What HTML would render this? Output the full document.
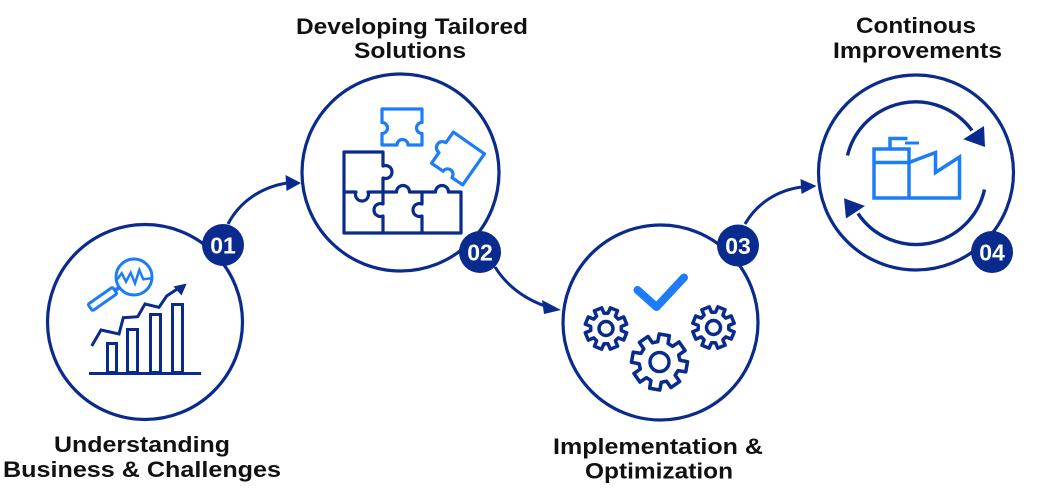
<!DOCTYPE html>
<html>
<head>
<meta charset="utf-8">
<style>
  html,body{margin:0;padding:0;background:#fff;}
  body{width:1056px;height:503px;overflow:hidden;}
  svg{display:block;}
  .lbl{font-family:"Liberation Sans",Arial,sans-serif;font-weight:bold;font-size:22px;fill:#111;}
  .num{font-family:"Liberation Sans",Arial,sans-serif;font-weight:bold;font-size:23px;fill:#fff;}
</style>
</head>
<body>
<svg width="1056" height="503" viewBox="0 0 1056 503" xmlns="http://www.w3.org/2000/svg">
  <defs>
    <path id="gear" d="M16.2,-4.3 L22.6,-4.2 L22.6,4.2 L16.2,4.3 L14.5,8.4 L19,12.9 L12.9,19 L8.4,14.5 L4.3,16.2 L4.2,22.6 L-4.2,22.6 L-4.3,16.2 L-8.4,14.5 L-12.9,19 L-19,12.9 L-14.5,8.4 L-16.2,4.3 L-22.6,4.2 L-22.6,-4.2 L-16.2,-4.3 L-14.5,-8.4 L-19,-12.9 L-12.9,-19 L-8.4,-14.5 L-4.3,-16.2 L-4.2,-22.6 L4.2,-22.6 L4.3,-16.2 L8.4,-14.5 L12.9,-19 L19,-12.9 L14.5,-8.4 Z"/>
  </defs>

  <!-- Main circles -->
  <g fill="none" stroke="#0a2b8e" stroke-width="3.2">
    <circle cx="145" cy="322" r="97.5"/>
    <circle cx="400.5" cy="172.5" r="98.5"/>
    <circle cx="660.5" cy="322.5" r="97.5"/>
    <circle cx="916" cy="172.5" r="97.5"/>
  </g>

  <!-- Connectors -->
  <g fill="none" stroke="#0a2b8e" stroke-width="3">
    <path d="M228,224 C240,201 262,187 287,183"/>
    <path d="M495,267 Q512,294 545,306"/>
    <path d="M745,224 C757,203 778,190 802,187"/>
  </g>
  <g fill="#0a2b8e">
    <polygon points="285.5,175 301,183 286.5,191"/>
    <polygon points="542,300 561,310 544,314"/>
    <polygon points="800.5,179 816.5,186 801.5,194"/>
  </g>

  <!-- Icon 1: chart + magnifier -->
  <g fill="none" stroke="#1d7df8" stroke-width="3">
    <circle cx="134" cy="277" r="18"/>
    <polyline stroke-width="2.5" stroke-linejoin="miter" points="117.3,279.3 121.7,273.3 126,281.7 130.7,272.7 135,283.3 139.3,270 143.3,279.3 151.7,278.3"/>
    <rect x="-15" y="-4" width="30" height="8" rx="1.5" transform="translate(102.5,299) rotate(-35)"/>
    <line x1="118.5" y1="288" x2="114" y2="291" stroke-width="4"/>
  </g>
  <g fill="none" stroke="#0a2b8e" stroke-width="3">
    <rect x="107.5" y="343.5" width="9" height="29"/>
    <rect x="127.5" y="329.5" width="10" height="43"/>
    <rect x="150.5" y="314.5" width="10" height="58"/>
    <rect x="172.5" y="304.5" width="10" height="68"/>
    <line x1="89" y1="373.5" x2="201" y2="373.5"/>
    <polyline stroke-linejoin="miter" points="91.7,346 101,330 119,334 123.3,317.7 137.7,316.7 145,304 159,307.3 166.7,296 178,288.5"/>
  </g>
  <polygon fill="#0a2b8e" points="186.7,283.5 173.5,286.5 181.5,295.5"/>

  <!-- Icon 2: puzzle -->
  <g fill="none" stroke="#0a2b8e" stroke-width="3.2" stroke-linejoin="round">
    <path d="M344,192 V152 H383 V166 A6.5,6.5 0 1 1 383,178 V192"/>
    <path d="M344,192 H356 A6.5,6.5 0 1 0 368,192 H383 V204 A6.5,6.5 0 1 0 383,216 V233 H344 Z"/>
    <path d="M383,192 H396.5 A6.5,6.5 0 1 1 409.5,192 H422 V204 A6.5,6.5 0 1 0 422,216 V233 H383"/>
    <path d="M422,192 H435.5 A6.5,6.5 0 1 1 448.5,192 H461 V233 H422"/>
  </g>
  <g fill="none" stroke="#1d7df8" stroke-width="3.2" stroke-linejoin="round">
    <path d="M382,109 H422 V122.5 A5.5,5.5 0 1 0 422,133.5 V145 H408 A5.5,5.5 0 1 0 397,145 H382 V133.5 A5.5,5.5 0 1 0 382,122.5 Z"/>
    <path transform="translate(458,158.5) rotate(35)" d="M-19,-19 H19 V19 H6 A5.5,5.5 0 1 0 -5,19 H-19 V6 A5.5,5.5 0 1 1 -19,-6 Z"/>
  </g>

  <!-- Icon 3: gears + check -->
  <polyline points="637.5,290 656.5,307 684,277.5" fill="none" stroke="#1d7df8" stroke-width="8" stroke-linecap="round" stroke-linejoin="round"/>
  <g fill="none" stroke="#0a2b8e" stroke-linejoin="round">
    <use href="#gear" transform="translate(606,328.5) rotate(22.5) scale(0.92)" stroke-width="3.8"/>
    <circle cx="606" cy="328.5" r="7" stroke-width="3.5"/>
    <use href="#gear" transform="translate(713.5,327.5) rotate(22.5) scale(0.92)" stroke-width="3.8"/>
    <circle cx="713.5" cy="327.5" r="7" stroke-width="3.5"/>
    <use href="#gear" transform="translate(659.5,362) rotate(10) scale(1.22)" stroke-width="2.9"/>
    <circle cx="659.5" cy="362" r="9.5" stroke-width="3.5"/>
  </g>

  <!-- Icon 4: cycle + factory -->
  <g fill="none" stroke="#0a2b8e" stroke-width="3.4">
    <path d="M847.5,155.5 A70,70 0 0 1 972,130.5"/>
    <path d="M984.5,189.5 A70,70 0 0 1 858,213.5"/>
  </g>
  <g fill="#0a2b8e">
    <polygon points="963.3,139.3 984,126 985,147"/>
    <polygon points="844,198.3 865,206 846,218.5"/>
  </g>
  <g fill="none" stroke="#1d7df8" stroke-width="3.5" stroke-linejoin="miter">
    <rect x="874" y="149" width="35" height="49"/>
    <line x1="874" y1="162.5" x2="909" y2="162.5"/>
    <polyline points="890,149 890,138.5 907.5,138.5"/>
    <polyline points="909,162.5 935.5,152.5 935.5,172.5 959.5,157 959.5,198 909,198"/>
  </g>
  <rect x="905" y="141.5" width="14" height="3" fill="#1d7df8"/>

  <!-- Badges -->
  <g fill="#0a2b8e">
    <circle cx="223" cy="245" r="21"/>
    <circle cx="480" cy="252" r="21"/>
    <circle cx="738" cy="245.5" r="21"/>
    <circle cx="992" cy="252" r="21"/>
  </g>
  <text class="num" x="223" y="253.5" text-anchor="middle">01</text>
  <text class="num" x="480" y="260.5" text-anchor="middle">02</text>
  <text class="num" x="738" y="254" text-anchor="middle">03</text>
  <text class="num" x="992" y="260.5" text-anchor="middle">04</text>

  <!-- Labels -->
  <text class="lbl" x="142" y="452" text-anchor="middle" textLength="176" lengthAdjust="spacingAndGlyphs">Understanding</text>
  <text class="lbl" x="142" y="477" text-anchor="middle" textLength="278" lengthAdjust="spacingAndGlyphs">Business &amp; Challenges</text>

  <text class="lbl" x="412" y="34" text-anchor="middle" textLength="232" lengthAdjust="spacingAndGlyphs">Developing Tailored</text>
  <text class="lbl" x="410" y="58" text-anchor="middle" textLength="112" lengthAdjust="spacingAndGlyphs">Solutions</text>

  <text class="lbl" x="658" y="454" text-anchor="middle" textLength="210" lengthAdjust="spacingAndGlyphs">Implementation &amp;</text>
  <text class="lbl" x="659" y="478.5" text-anchor="middle" textLength="148" lengthAdjust="spacingAndGlyphs">Optimization</text>

  <text class="lbl" x="916" y="33" text-anchor="middle" textLength="120" lengthAdjust="spacingAndGlyphs">Continous</text>
  <text class="lbl" x="917.5" y="58" text-anchor="middle" textLength="169" lengthAdjust="spacingAndGlyphs">Improvements</text>
</svg>
</body>
</html>
